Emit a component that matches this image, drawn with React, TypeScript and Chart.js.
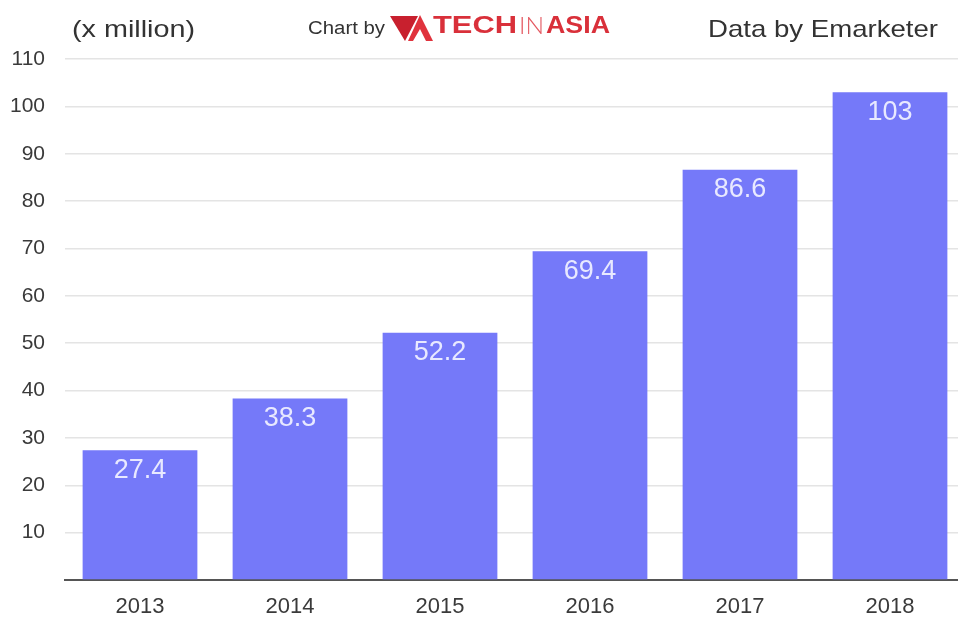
import React, { useEffect, useRef } from "react";
import { Chart, registerables } from "chart.js";

Chart.register(...registerables);

const years = ["2013", "2014", "2015", "2016", "2017", "2018"];
const users = [27.4, 38.3, 52.2, 69.4, 86.6, 103];
const valueLabels = ["27.4", "38.3", "52.2", "69.4", "86.6", "103"];
const yTicksMax = 110;
const yStep = 10;

const unitText = "(x million)";
const chartByText = "Chart by";
const logoParts = ["TECH", "IN", "ASIA"];
const sourceText = "Data by Emarketer";

const FONT = "'Liberation Sans', Helvetica, Arial, sans-serif";
const BAR = "#7579F9";
const RED = "#D9303A";

function drawFit(ctx: any, text: string, x: number, y: number, width: number) {
  const w = ctx.measureText(text).width;
  const sx = width / w;
  ctx.save();
  ctx.translate(x, y);
  ctx.scale(sx, 1);
  ctx.textAlign = "left";
  ctx.fillText(text, 0, 0);
  ctx.restore();
}

const valueLabelPlugin = {
  id: "valueLabels",
  afterDatasetsDraw(chart: any) {
    const ctx = chart.ctx;
    const meta = chart.getDatasetMeta(0);
    ctx.save();
    ctx.font = `27px ${FONT}`;
    ctx.fillStyle = "rgba(245,245,255,0.9)";
    ctx.textAlign = "center";
    ctx.textBaseline = "middle";
    meta.data.forEach((bar: any, i: number) => {
      ctx.fillText(valueLabels[i], bar.x, bar.y + 20);
    });
    ctx.restore();
  },
};

const headerPlugin = {
  id: "header",
  afterDraw(chart: any) {
    const ctx = chart.ctx;
    ctx.save();
    ctx.textBaseline = "middle";
    ctx.fillStyle = "#333";
    ctx.font = `24px ${FONT}`;
    drawFit(ctx, unitText, 72, 30, 123);
    drawFit(ctx, sourceText, 708, 30, 230);

    ctx.font = `18px ${FONT}`;
    ctx.fillStyle = "#333";
    drawFit(ctx, chartByText, 308, 29, 77);

    // logo icon
    ctx.fillStyle = "#C8202E";
    ctx.beginPath();
    ctx.moveTo(390, 16);
    ctx.lineTo(418, 16);
    ctx.lineTo(405, 41);
    ctx.closePath();
    ctx.fill();
    ctx.fillStyle = "#E0333D";
    ctx.beginPath();
    ctx.moveTo(420, 15);
    ctx.lineTo(433, 41);
    ctx.lineTo(426, 41);
    ctx.lineTo(420, 29);
    ctx.lineTo(413, 41);
    ctx.lineTo(408, 41);
    ctx.closePath();
    ctx.fill();

    ctx.fillStyle = RED;
    ctx.font = `bold 23px ${FONT}`;
    drawFit(ctx, logoParts[0], 433, 27, 84);
    ctx.font = `300 23px Lato, ${FONT}`;
    ctx.fillStyle = "#E45A62";
    drawFit(ctx, logoParts[1], 519, 27, 25);
    ctx.font = `bold 23px ${FONT}`;
    ctx.fillStyle = RED;
    drawFit(ctx, logoParts[2], 546, 27, 64);
    ctx.restore();
  },
};

export default function App() {
  const ref = useRef<HTMLCanvasElement | null>(null);
  useEffect(() => {
    if (!ref.current) return;
    const chart = new Chart(ref.current, {
      type: "bar",
      data: {
        labels: years,
        datasets: [
          {
            data: users,
            backgroundColor: BAR,
            borderWidth: 0,
            categoryPercentage: 1,
            barPercentage: 0.765,
          },
        ],
      },
      options: {
        responsive: false,
        animation: false,
        devicePixelRatio: 1,
        layout: { padding: { top: 59, right: 15, left: 0, bottom: 0 } },
        plugins: {
          legend: { display: false },
          tooltip: { enabled: false },
        },
        scales: {
          x: {
            grid: { display: false, drawTicks: false },
            border: { display: true, color: "#555", width: 2 },
            ticks: {
              font: { family: FONT, size: 22 },
              color: "#3a3a3a",
              padding: 14,
            },
            afterFit: (s: any) => {
              s.height = 37;
            },
          },
          y: {
            min: 0,
            max: yTicksMax,
            grid: { color: "#e4e4e4", lineWidth: 1.5, drawTicks: false },
            border: { display: false },
            ticks: {
              stepSize: yStep,
              font: { family: FONT, size: 21 },
              color: "#3a3a3a",
              padding: 20,
              callback: (v: any) => (v === 0 ? "" : String(v)),
            },
            afterFit: (s: any) => {
              s.width = 65;
            },
          },
        },
      },
      plugins: [valueLabelPlugin, headerPlugin],
    });
    return () => chart.destroy();
  }, []);
  return (
    <div
      style={{
        position: "absolute",
        left: 0,
        top: 0,
        width: 958,
        height: 617,
        overflow: "hidden",
        background: "#fff",
      }}
    >
      <canvas ref={ref} width={980} height={617} style={{ display: "block" }} />
    </div>
  );
}
